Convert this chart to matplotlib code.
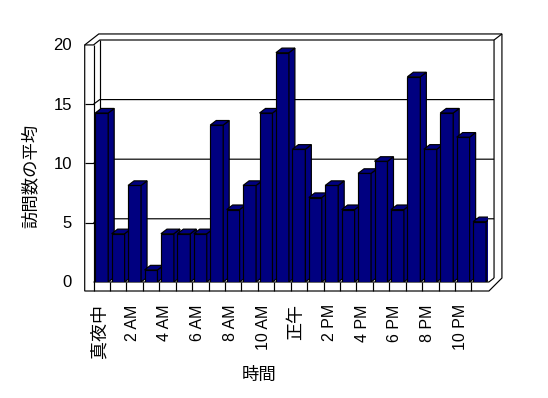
import matplotlib
matplotlib.use("Agg")
import matplotlib.pyplot as plt
from matplotlib.patches import Polygon
import numpy as np

plt.rcParams['font.family'] = ['Liberation Sans', 'Noto Sans CJK JP', 'DejaVu Sans']

# ---- data ----
hours = ["真夜中", "1 AM", "2 AM", "3 AM", "4 AM", "5 AM", "6 AM", "7 AM",
         "8 AM", "9 AM", "10 AM", "11 AM", "正午", "1 PM", "2 PM", "3 PM",
         "4 PM", "5 PM", "6 PM", "7 PM", "8 PM", "9 PM", "10 PM", "11 PM"]
visits = [14, 4, 8, 1, 4, 4, 4, 13, 6, 8, 14, 19,
          11, 7, 8, 6, 9, 10, 6, 17, 11, 14, 12, 5]
y_ticks = [0, 5, 10, 15, 20]
x_label = "時間"
y_label = "訪問数の平均"

BAR_COLOR = "#000080"
LW = 0.85
CJK = ['Noto Sans CJK JP', 'DejaVu Sans']

fig = plt.figure(figsize=(5.48, 3.98), dpi=100)
ax = fig.add_axes([93.5 / 548, (398 - 282) / 398, (487.8 - 93.5) / 548, 241.4 / 398])
ax.set_xlim(-0.5, 23.5)
ax.set_ylim(0, 20)
for s in ax.spines.values():
    s.set_visible(False)
ax.set_facecolor('none')

# ---- frame geometry (data units) ----
LW_OUT, LW_IN, BW_L, BW_R, BK_R, FL_R, TL_BX = -1.035, -0.5, -0.12, 23.88, 24.36, 23.57, -0.18
V_BOT, V_TOPF, V_BWT, V_BKT, V_BWB = -0.746, 19.64, 20.05, 20.55, 0.33

def v_back(v):
    return 0.3 + 0.9875 * v

def v_left(v):
    return 0.982 * v

outer = Polygon([(LW_OUT, V_BOT), (LW_OUT, V_TOPF), (TL_BX, V_BKT), (BK_R, V_BKT),
                 (BK_R, V_BWB), (FL_R, V_BOT)], closed=True, facecolor='white',
                edgecolor='black', linewidth=LW, clip_on=False, zorder=0.5)
ax.add_patch(outer)

def line(xs, ys, z=1):
    ax.plot(xs, ys, color='black', linewidth=LW, clip_on=False, zorder=z,
            solid_capstyle='butt')

line([LW_IN, LW_IN], [V_TOPF, V_BOT])
line([LW_OUT, LW_IN, BW_L, BW_R, BW_R], [V_TOPF, V_TOPF, V_BWT, V_BWT, V_BWB])
line([BW_R, BK_R], [V_BWT, V_BKT])
line([BW_L, BW_L], [V_BWT, V_BWB])
line([LW_IN, FL_R, BW_R], [0, 0, V_BWB])
for k in range(1, len(hours)):
    line([k - 0.5, k - 0.5], [V_BOT, 0])
for v in y_ticks[1:-1]:
    line([LW_IN, BW_L, BW_R], [v_left(v), v_back(v), v_back(v)])
    line([LW_OUT, LW_IN], [v_left(v), v_left(v)])

# ---- 3D bars ----
x = np.arange(len(hours))
w = 0.79
dx, dy = 0.365, 0.38
bars = ax.bar(x, visits, width=w, color=BAR_COLOR, edgecolor='black',
              linewidth=LW, zorder=3)
for i, (xi, v) in enumerate(zip(x, visits)):
    bars[i].set_zorder(3 + 0.01 * i)
    l, r = xi - w / 2, xi + w / 2
    top = Polygon([(l, v), (r, v), (r + dx, v + dy), (l + dx, v + dy)], closed=True,
                  facecolor=BAR_COLOR, edgecolor='black', linewidth=LW,
                  zorder=3 + 0.01 * i + 0.001)
    side = Polygon([(r, 0), (r + dx, dy), (r + dx, v + dy), (r, v)], closed=True,
                   facecolor=BAR_COLOR, edgecolor='black', linewidth=LW,
                   zorder=3 + 0.01 * i + 0.001)
    ax.add_patch(side)
    ax.add_patch(top)

# ---- ticks & labels ----
ax.set_yticks([v_left(v) + 0.05 for v in y_ticks], [str(v) for v in y_ticks])
ax.tick_params(axis='y', length=0, pad=15.5, labelsize=12)
tick_idx = x[::2]
ax.set_xticks(tick_idx - 0.15, [hours[i] for i in tick_idx], rotation=90)
ax.tick_params(axis='x', length=0, pad=16, labelsize=11.5)
for t in ax.get_xticklabels():
    if not t.get_text()[0].isascii():
        t.set_fontfamily(CJK)
        t.set_fontsize(13)

ax.set_xlabel(x_label, fontsize=12.5, family=CJK)
ax.xaxis.set_label_coords(0.42, -0.387)
ax.xaxis.label.set_va('center')
ax.set_ylabel(y_label, fontsize=12.5, family=CJK)
ax.yaxis.set_label_coords(-0.1585, 0.441)
ax.yaxis.label.set_va('center')

fig.savefig("out.png", dpi=100, facecolor='white')
